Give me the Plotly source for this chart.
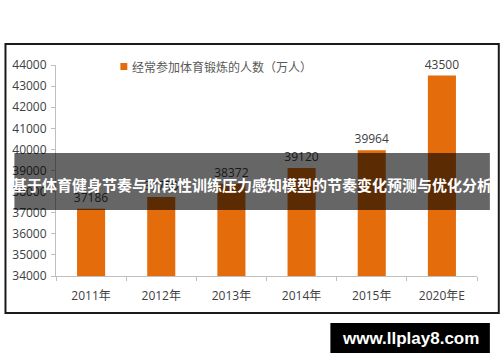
import plotly.graph_objects as go

categories = ["2011年", "2012年", "2013年", "2014年", "2015年", "2020年E"]
values = [37186, 37750, 38372, 39120, 39964, 43500]
series_name = "经常参加体育锻炼的人数（万人）"
y_ticks = [34000, 35000, 36000, 37000, 38000, 39000, 40000, 41000, 42000, 43000, 44000]
banner_text = "基于体育健身节奏与阶段性训练压力感知模型的节奏变化预测与优化分析"
watermark_text = "www.llplay8.com"

W, H = 500, 362
L, R, T, B = 52, 23, 65, 86
PW, PH = W - L - R, H - T - B

def px(x):
    return (x - L) / PW

def py(y):
    return (H - B - y) / PH

BAR = "#E46C0A"
TXT = "#404040"
NUMFONT = "Open Sans, Noto Sans CJK SC, sans-serif"
CJK = "Noto Sans CJK SC, sans-serif"

fig = go.Figure()
fig.add_trace(go.Bar(
    x=categories, y=values, name=series_name,
    marker=dict(color=BAR, line=dict(width=0)),
    width=0.4,
    text=[str(v) for v in values], textposition="outside",
    textfont=dict(family=NUMFONT, size=12, color=TXT),
    constraintext="none",
    cliponaxis=False, showlegend=False, hoverinfo="skip",
))

fig.update_layout(
    width=W, height=H,
    margin=dict(l=L, r=R, t=T, b=B),
    paper_bgcolor="white", plot_bgcolor="white",
    bargap=0.6,
    xaxis=dict(
        showgrid=False, showline=True, linecolor="#BFBFBF", linewidth=1,
        ticks="outside", tickson="boundaries", ticklen=4, tickcolor="#BFBFBF",
        tickfont=dict(family=NUMFONT, size=12, color=TXT),
        ticklabelstandoff=9,
    ),
    yaxis=dict(
        range=[34000, 44000], tickvals=y_ticks, tickformat="d",
        showgrid=False, showline=True, linecolor="#BFBFBF", linewidth=1,
        ticks="outside", ticklen=4, tickcolor="#BFBFBF",
        tickfont=dict(family=NUMFONT, size=12, color=TXT),
        ticklabelstandoff=2,
        zeroline=False,
    ),
    font=dict(family=CJK),
)

shapes = [
    dict(type="rect", xref="paper", yref="paper",
         x0=px(1), x1=px(499), y0=py(44), y1=py(313),
         line=dict(color="#1a1a1a", width=2), fillcolor="rgba(0,0,0,0)", layer="below"),
    dict(type="rect", xref="paper", yref="paper",
         x0=px(117), x1=px(124), y0=py(70), y1=py(63),
         line=dict(width=0), fillcolor=BAR),
    dict(type="rect", xref="paper", yref="paper",
         x0=px(10), x1=px(490), y0=py(210), y1=py(153),
         line=dict(width=0), fillcolor="rgba(0,0,0,0.6)", layer="above"),
    dict(type="rect", xref="paper", yref="paper",
         x0=px(329), x1=px(490), y0=py(353), y1=py(323),
         line=dict(width=0), fillcolor="black", layer="above"),
]
fig.update_layout(shapes=shapes)

fig.add_annotation(xref="paper", yref="paper", x=px(127), y=py(66),
                   xanchor="left", yanchor="middle", showarrow=False,
                   text=series_name, font=dict(family=CJK, size=12, color="#595959"))
fig.add_annotation(xref="paper", yref="paper", x=px(250), y=py(184),
                   xanchor="center", yanchor="middle", showarrow=False,
                   text="<b>" + banner_text + "</b>",
                   font=dict(family=CJK, size=15, color="white"))
fig.add_annotation(xref="paper", yref="paper", x=px(409.5), y=py(338),
                   xanchor="center", yanchor="middle", showarrow=False,
                   text="<b>" + watermark_text + "</b>",
                   font=dict(family="Liberation Sans, Arial, sans-serif", size=17, color="white"))

fig.write_html("out.html", config={"displayModeBar": False},
               post_script="document.body.style.margin='0';")
